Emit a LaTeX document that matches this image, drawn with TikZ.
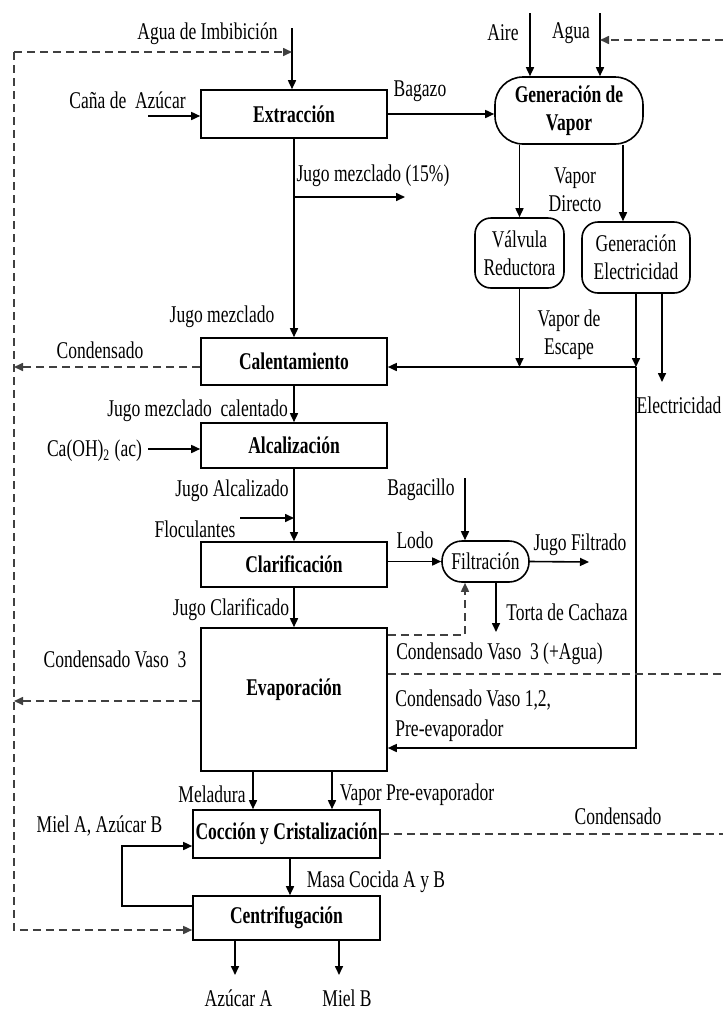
\documentclass[tikz,border=0pt]{standalone}
\usepackage{fontspec}
\setmainfont{Liberation Serif}[FakeStretch=0.73]
\usetikzlibrary{arrows.meta}

\begin{document}
\begin{tikzpicture}
  [
    x=0.5pt, y=-0.5pt,
    >={Triangle[length=4.5pt,width=4pt]},
    every node/.style = {font=\fontsize{12}{14}\selectfont},
    box/.style   = {draw, thick, rectangle, inner sep=0.5pt, font=\fontsize{12}{14}\selectfont\bfseries},
    pill/.style  = {draw, thick, rectangle, rounded corners=#1, inner sep=1pt, align=center},
    lbl/.style   = {inner sep=0pt, align=center},
    flow/.style  = {thick, ->},
    cond/.style  = {thick, dash pattern=on 4pt off 2.5pt, draw=black!75},
  ]

%Frame of the page, in pixels of the original
\useasboundingbox (0,0) rectangle (723,1013);

%Process boxes
\node[box, minimum width=93pt, minimum height=24pt] (extr) at (294,114) {Extracción};
\node[pill=14pt, font=\fontsize{12}{14}\selectfont\bfseries, minimum width=74pt, minimum height=33.5pt] (genv) at (569,110.5) {Generación de\\Vapor};
\node[pill=8pt, minimum width=44.5pt, minimum height=35pt] (valv) at (519.5,253) {Válvula\\Reductora};
\node[pill=8pt, minimum width=54pt, minimum height=35.5pt] (gelec) at (636,257.5) {Generación\\Electricidad};
\node[box, minimum width=93pt, minimum height=23.5pt] (calent) at (294,361.5) {Calentamiento};
\node[box, minimum width=93pt, minimum height=22.5pt] (alcal) at (294,445.5) {Alcalización};
\node[box, minimum width=93pt, minimum height=22.5pt] (clarif) at (294,564.5) {Clarificación};
\node[pill=10pt, minimum width=43.5pt, minimum height=20.5pt] (filtr) at (485.5,561.5) {Filtración};
\node[box, minimum width=93pt, minimum height=71.5pt] (evap) at (294,699.5) {};
\node[lbl, font=\fontsize{12}{14}\selectfont\bfseries] (evaptxt) at (294,690) {Evaporación};
\node[box, minimum width=93.5pt, minimum height=24pt] (cocc) at (286.5,834) {Cocción y Cristalización};
\node[box, minimum width=93.5pt, minimum height=22pt] (centr) at (286.5,918) {Centrifugación};

%Free ends of the streams
\coordinate (imbtop) at (292,28);
\coordinate (cana) at (148,116);
\coordinate (aire) at (530,13);
\coordinate (agua) at (600,13);
\coordinate (rtop) at (723,40);
\coordinate (jm) at (294,197);
\coordinate (jm15) at (405,197);
\coordinate (vesc) at (636,367);
\coordinate (vevap) at (636,748);
\coordinate (elecend) at (662,382);
\coordinate (lcal) at (14,367);
\coordinate (lev) at (14,701);
\coordinate (ltop) at (14,52);
\coordinate (lbot) at (14,930);
\coordinate (caoh) at (148,449);
\coordinate (floc) at (240,518);
\coordinate (bagc) at (465,478);
\coordinate (jfil) at (589,562);
\coordinate (torta) at (496,632);
\coordinate (evf) at (465,635);
\coordinate (rv3) at (723,674);
\coordinate (rcoc) at (723,835);
\coordinate (mloop) at (122,906);
\coordinate (mtop) at (122,846);
\coordinate (azA) at (235,975);
\coordinate (mielB) at (339,975);

%Extraction and steam
\draw[flow] (imbtop) -- (imbtop |- extr.north);
\draw[flow] (cana) -- (cana -| extr.west);
\draw[flow] (extr.east) -- (extr.east -| genv.west);
\draw[flow] (aire) -- (aire |- genv.north);
\draw[flow] (agua) -- (agua |- genv.north);
\draw[cond,->] (rtop) -- (rtop -| agua);
\draw[flow] (extr.south) -- (extr.south |- calent.north);
\draw[flow] (jm) -- (jm15);
\draw[flow] (valv.north |- genv.south) -- (valv.north);
\draw[flow] ([xshift=27pt]genv.south) -- ([xshift=27pt]genv.south |- gelec.north);
\draw[flow] (valv.south) -- (valv.south |- vesc);
\draw[flow] (gelec.south) -- (vesc);
\draw[flow] (gelec.south -| elecend) -- (elecend);
\draw[flow] (vesc) -- (vesc -| calent.east);
\draw[flow] (vesc) -- (vevap) -- (vevap -| evap.east);

%Condensate return line on the left
\draw[cond,->] (lcal -| calent.west) -- (lcal);
\draw[cond,->] (lev -| evap.west) -- (lev);
\draw[cond,->] (ltop) -- (ltop -| imbtop);
\draw[cond,->] (ltop) -- (lbot) -- (lbot -| centr.west);

%Juice treatment
\draw[flow] (calent.south) -- (calent.south |- alcal.north);
\draw[flow] (caoh) -- (caoh -| alcal.west);
\draw[flow] (alcal.south) -- (alcal.south |- clarif.north);
\draw[flow] (floc) -- (floc -| alcal.south);
\draw[flow] (filtr.west -| clarif.east) -- (filtr.west);
\draw[flow] (bagc) -- (bagc |- filtr.north);
\draw[flow] (filtr.east) -- (jfil);
\draw[flow] (filtr.south -| torta) -- (torta);
\draw[flow] (clarif.south) -- (clarif.south |- evap.north);
\draw[cond,->] (evf -| evap.east) -- (evf) -- (evf |- filtr.south);
\draw[cond] (rv3 -| evap.east) -- (rv3);

%Boiling and centrifuges
\draw[flow] ([xshift=-16.75pt]cocc.north |- evap.south) -- ([xshift=-16.75pt]cocc.north);
\draw[flow] ([xshift=22.75pt]cocc.north |- evap.south) -- ([xshift=22.75pt]cocc.north);
\draw[cond] (cocc.east) -- (cocc.east -| rcoc);
\draw[flow] (mloop -| centr.west) -- (mloop) -- (mtop) -- (mtop -| cocc.west);
\draw[flow] ([xshift=1.75pt]cocc.south) -- ([xshift=1.75pt]cocc.south |- centr.north);
\draw[flow] (centr.south -| azA) -- (azA);
\draw[flow] (centr.south -| mielB) -- (mielB);

%Stream labels
\node[lbl] (limb) at (207.5,34) {Agua de Imbibición};
\node[lbl] (lcana) at (127.5,100) {Caña de \ Azúcar};
\node[lbl] (lbag) at (420,91) {Bagazo};
\node[lbl] (laire) at (503,33) {Aire};
\node[lbl] (lagua) at (571,33) {Agua};
\node[lbl] (ljm15) at (373,176) {Jugo mezclado (15\%)};
\node[lbl] (lvdir) at (575,190) {Vapor\\Directo};
\node[lbl] (lvesc) at (569,335) {Vapor de\\Escape};
\node[lbl] (lelec) at (679,405) {Electricidad};
\node[lbl] (ljm) at (222,317) {Jugo mezclado};
\node[lbl] (lcond1) at (100,350) {Condensado};
\node[lbl] (ljmc) at (197.5,411) {Jugo mezclado \ calentado};
\node[lbl] (lcaoh) at (94.5,451) {Ca(OH)\textsubscript{2} (ac)};
\node[lbl] (ljalc) at (232,491) {Jugo Alcalizado};
\node[lbl] (lfloc) at (195,529) {Floculantes};
\node[lbl] (lbagc) at (421,490) {Bagacillo};
\node[lbl] (llodo) at (415,540) {Lodo};
\node[lbl] (ljfil) at (580,545) {Jugo Filtrado};
\node[lbl] (ltorta) at (567,612) {Torta de Cachaza};
\node[lbl] (ljcl) at (231,610) {Jugo Clarificado};
\node[lbl] (lcv3) at (115,659) {Condensado Vaso \ 3};
\node[lbl] (lcv3a) at (499.5,654) {Condensado Vaso \ 3 (+Agua)};
\node[lbl, align=left, anchor=west, font=\fontsize{12}{15}\selectfont] (lcv12) at (395,716) {Condensado Vaso 1,2,\\Pre-evaporador};
\node[lbl] (lmel) at (212,794) {Meladura};
\node[lbl] (lvpre) at (417,795) {Vapor Pre-evaporador};
\node[lbl] (lmiel) at (99.5,826) {Miel A, Azúcar B};
\node[lbl] (lcond2) at (618,816) {Condensado};
\node[lbl] (lmasa) at (376,882) {Masa Cocida A y B};
\node[lbl] (lazA) at (238.5,998) {Azúcar A};
\node[lbl] (lmielB) at (347,998) {Miel B};

\end{tikzpicture}
\end{document}
